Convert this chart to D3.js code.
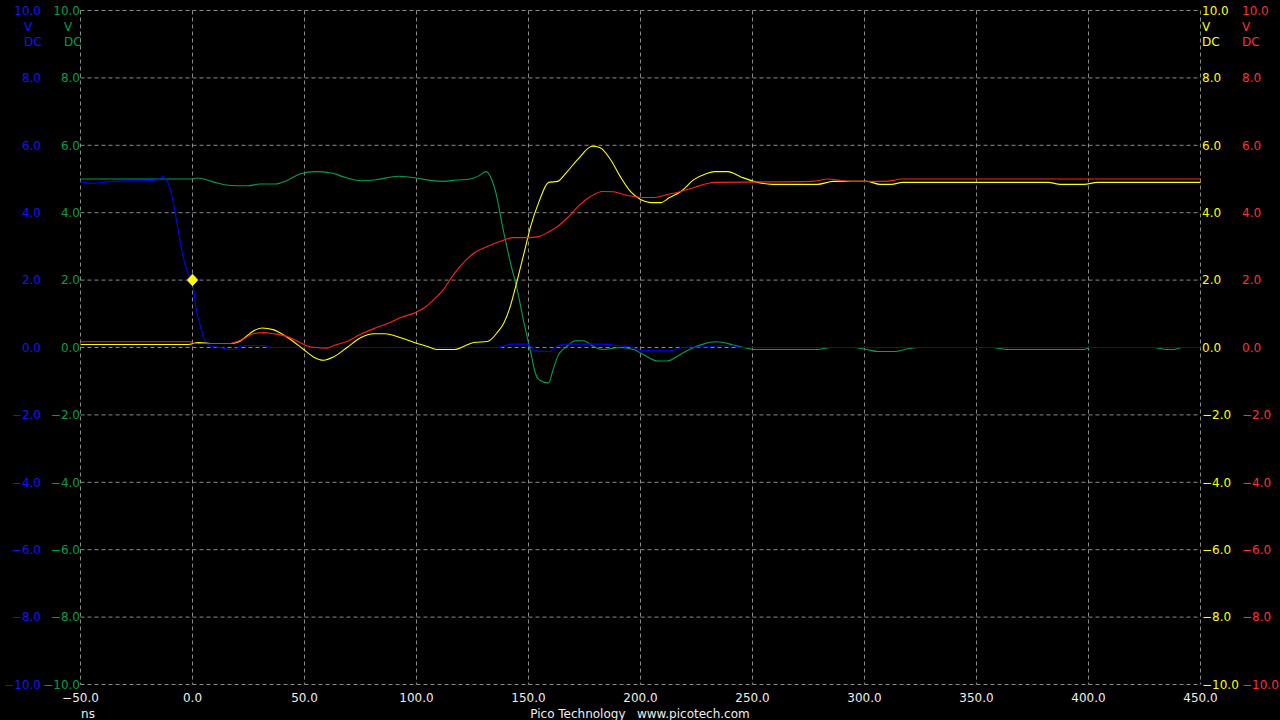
<!DOCTYPE html>
<html><head><meta charset="utf-8">
<script src="https://cdn.jsdelivr.net/npm/d3@7"></script>
<style>html,body{margin:0;padding:0;background:#000;overflow:hidden}svg{display:block}text{font-family:"DejaVu Sans",sans-serif;font-size:12px}</style>
</head><body><svg id="c" width="1280" height="720"></svg>
<script>
const xTicks = [-50,0,50,100,150,200,250,300,350,400,450];
const yTicks = [-10,-8,-6,-4,-2,0,2,4,6,8,10];
const unitLabel = ["V","DC"];
const xUnit = "ns";
const footer = "Pico Technology   www.picotech.com";
const triggerPoint = [0, 2.0];

const blueSeries = [[-50,4.93],[-45,4.87],[-40,4.9],[-35,4.93],[-17,4.96],[-15,5.0],[-13,5.07],[-12,5.0],[-11,4.9],[-9,4.45],[-6.7,3.6],[-4.5,2.8],[-2,2.2],[0,1.95],[1.5,1.2],[3.6,0.62],[5,0.3],[7,0.08],[10,0.02],[14,-0.02],[16,-0.06],[19,-0.06],[21,0.03],[26,0.06],[32,0.06],[35,0],[136,0],[140,0.06],[142,0.1],[149.5,0.1],[153,-0.1],[159,-0.12],[163,0.05],[167,0.1],[183,0.1],[191,0.05],[197,0],[200,-0.08],[213,-0.1],[219,0],[232,0.03],[234,0.05],[241,0.05],[245,0],[450,0]];
const greenSeries = [[-50,5.0],[0,5.0],[2,5.03],[5,5.0],[10,4.9],[15,4.82],[20,4.8],[25,4.8],[30,4.85],[37,4.85],[42,4.95],[48,5.15],[55,5.22],[62,5.18],[68,5.05],[75,4.95],[82,4.98],[92,5.08],[100,5.03],[106,4.96],[112,4.93],[118,4.97],[124,5.0],[128,5.1],[131,5.22],[135,4.7],[139,3.4],[142,2.5],[145,1.7],[148,0.73],[151,-0.15],[153,-0.75],[155,-0.97],[159,-1.05],[161,-0.65],[163,-0.27],[167,0.03],[171,0.2],[174.5,0.2],[179,0.03],[183,-0.06],[191,0],[197,-0.06],[201,-0.2],[207.5,-0.4],[212,-0.4],[218,-0.2],[222,-0.05],[228,0.1],[233,0.17],[237,0.15],[241,0.08],[246,0],[252,-0.06],[279,-0.06],[285,0],[295,0],[301,-0.06],[306,-0.12],[313,-0.12],[320,-0.03],[324,0],[357,0],[364,-0.06],[398,-0.06],[401,0],[429,0],[435,-0.06],[438,-0.06],[442,0],[450,0]];
const yellowSeries = [[-50,0.09],[-2,0.09],[2.7,0.15],[9.5,0.12],[17,0.12],[21,0.18],[24,0.33],[27,0.48],[31,0.58],[36,0.53],[39,0.44],[45,0.18],[49.6,-0.06],[54,-0.28],[58.5,-0.38],[63,-0.28],[69,0],[75,0.29],[81,0.41],[86,0.41],[93,0.29],[99,0.15],[105,0.03],[109,-0.06],[117,-0.06],[121,0.03],[125.6,0.15],[131.7,0.18],[136,0.44],[139,0.73],[142,1.25],[145,2.0],[148,2.8],[151,3.6],[154.7,4.33],[159,4.9],[163,4.93],[167,5.2],[172,5.58],[178.5,5.97],[182,5.93],[186.6,5.58],[191,5.07],[195.5,4.63],[200,4.39],[204.5,4.3],[209,4.3],[213,4.45],[218,4.63],[224,4.99],[229,5.15],[233,5.22],[239,5.22],[244.6,5.07],[250.5,4.93],[259,4.84],[279,4.84],[286,4.93],[301,4.93],[307,4.84],[312,4.84],[317,4.9],[382,4.9],[387.5,4.84],[398,4.84],[404,4.9],[450,4.9]];
const redSeries = [[-50,0.17],[-1,0.17],[1,0.12],[17,0.12],[20,0.18],[24,0.3],[27,0.41],[32,0.44],[36,0.41],[42,0.33],[48,0.15],[52,0.03],[55,0],[60,-0.02],[63,0.06],[69,0.18],[75,0.39],[81,0.56],[87,0.71],[93,0.89],[99.6,1.04],[104,1.2],[107.7,1.42],[112,1.72],[116.6,2.17],[121,2.52],[126,2.82],[131.6,3.0],[137.5,3.15],[143,3.26],[149.5,3.26],[154.5,3.29],[158.5,3.41],[163,3.59],[168,3.89],[173,4.24],[177.7,4.48],[183,4.63],[188,4.62],[192.4,4.54],[197,4.48],[201,4.45],[206,4.45],[212,4.54],[218,4.63],[224,4.75],[233,4.9],[277,4.93],[283.5,5.0],[289,4.96],[294,4.93],[308.6,4.93],[313,4.96],[316,5.0],[450,5.0]];

const colors = {blue:"#0000ff", green:"#00a050", yellow:"#ffff00", red:"#ff2020"};
const textColors = {blue:"#1414ff", green:"#00a048", yellow:"#ffff00", red:"#ff3030"};

const svg = d3.select("#c");
svg.append("rect").attr("width",1280).attr("height",720).attr("fill","#000");
const x = d3.scaleLinear().domain([-50,450]).range([80.5,1200.5]);
const y = d3.scaleLinear().domain([-10,10]).range([684.5,10.5]);

const grid = svg.append("g").attr("stroke","#8a8a8a").attr("stroke-dasharray","4,3").attr("stroke-width",1);
grid.selectAll(".v").data(xTicks).join("line").attr("x1",d=>x(d)).attr("x2",d=>x(d)).attr("y1",y(10)).attr("y2",y(-10));
grid.selectAll(".h").data(yTicks).join("line").attr("y1",d=>y(d)).attr("y2",d=>y(d)).attr("x1",x(-50)).attr("x2",x(450));

const fmt = d3.format(".1f");
function yLabels(xpos, anchor, col){
  const g = svg.append("g").attr("fill", col).attr("text-anchor", anchor);
  g.selectAll("text").data(yTicks).join("text").attr("x",xpos).attr("y",d=>y(d)).attr("dy","0.36em").text(d=>fmt(d));
  return g;
}
yLabels(41,"end",textColors.blue);
yLabels(80,"end",textColors.green);
yLabels(1202,"start",textColors.yellow);
yLabels(1242,"start",textColors.red);
function units(xpos, col){
  svg.append("g").attr("fill",col).selectAll("text").data(unitLabel).join("text")
    .attr("x",xpos).attr("y",(d,i)=>y(10)+16+i*15.5).attr("dy","0.36em").text(d=>d);
}
units(24,textColors.blue); units(64,textColors.green); units(1202,textColors.yellow); units(1242,textColors.red);

svg.append("g").attr("fill","#eeeeee").attr("text-anchor","middle").selectAll("text").data(xTicks).join("text")
  .attr("x",d=>x(d)).attr("y",698).attr("dy","0.36em").text(d=>fmt(d));
svg.append("text").attr("x",88).attr("y",714).attr("dy","0.36em").attr("text-anchor","middle").attr("fill","#eeeeee").text(xUnit);
svg.append("text").attr("x",640).attr("y",714).attr("dy","0.36em").attr("text-anchor","middle").attr("fill","#eeeeee").attr("xml:space","preserve").style("white-space","pre").text(footer);

const line = d3.line().x(d=>x(d[0])).y(d=>y(d[1])).curve(d3.curveMonotoneX);
const series = [["green",greenSeries],["blue",blueSeries],["yellow",yellowSeries],["red",redSeries]];
svg.append("g").selectAll("path").data(series).join("path")
  .attr("d",d=>line(d[1])).attr("fill","none").attr("stroke",d=>colors[d[0]]).attr("stroke-width",1.1);

const tx = x(triggerPoint[0]), ty = y(triggerPoint[1]);
const dp = d3.path();
dp.moveTo(tx, ty-6.5); dp.lineTo(tx+6, ty); dp.lineTo(tx, ty+6.5); dp.lineTo(tx-6, ty); dp.closePath();
svg.append("path").attr("d",dp.toString()).attr("fill","#ffff00").attr("stroke","#0000ff").attr("stroke-width",0.6);
</script></body></html>
